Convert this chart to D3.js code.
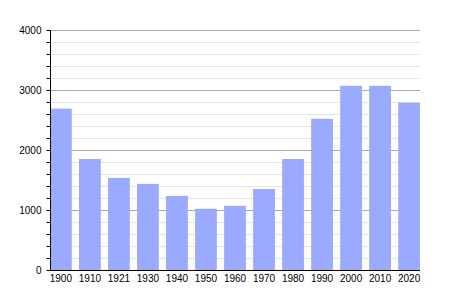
<!DOCTYPE html>
<html>
<head>
<meta charset="utf-8">
<script src="https://cdn.jsdelivr.net/npm/d3@7"></script>
<style>
  body { margin: 0; background: #fff; }
  svg text { font-family: "Liberation Sans", Arial, sans-serif; font-size: 10px; fill: #000; }
</style>
</head>
<body>
<div id="chart"></div>
<script>
var years = ["1900","1910","1921","1930","1940","1950","1960","1970","1980","1990","2000","2010","2020"];
var population = [2690,1850,1535,1435,1235,1020,1070,1350,1850,2520,3070,3070,2790];
var yTicks = [0,1000,2000,3000,4000];

var width = 450, height = 300;
var mLeft = 50, mRight = 420, mTop = 30, mBottom = 270;

var svg = d3.select("#chart").append("svg").attr("width", width).attr("height", height);

var x = d3.scaleBand().domain(years).range([mLeft, mRight]).paddingInner(0.25).paddingOuter(0);
var y = d3.scaleLinear().domain([0, 4000]).range([mBottom, mTop]);

var minor = d3.range(0, 4001, 200);

// minor grid
svg.append("g").selectAll("line")
    .data(minor.filter(function (d) { return d % 1000 != 0; }))
    .enter().append("line")
    .attr("x1", mLeft).attr("x2", mRight)
    .attr("y1", function (d) { return y(d) + 0.5; })
    .attr("y2", function (d) { return y(d) + 0.5; })
    .attr("stroke", "#e4e4e4");

// major grid
svg.append("g").selectAll("line")
    .data(yTicks.filter(function (d) { return d > 0; }))
    .enter().append("line")
    .attr("x1", mLeft).attr("x2", mRight)
    .attr("y1", function (d) { return y(d) + 0.5; })
    .attr("y2", function (d) { return y(d) + 0.5; })
    .attr("stroke", "#aaaaaa");

// bars
svg.append("g").selectAll("rect")
    .data(years)
    .enter().append("rect")
    .attr("x", function (d) { return x(d); })
    .attr("width", x.bandwidth())
    .attr("y", function (d, i) { return y(population[i]); })
    .attr("height", function (d, i) { return y(0) - y(population[i]); })
    .attr("fill", "#99aaff");

// y axis
var yAxis = d3.axisLeft(y).tickValues(minor).tickSize(4).tickFormat(function (d) {
    return yTicks.indexOf(d) >= 0 ? d : "";
});
var gy = svg.append("g").attr("transform", "translate(" + (mLeft + 0.5) + ",0)").call(yAxis);
gy.select(".domain").attr("d", "M0," + mTop + "V" + mBottom);
gy.selectAll("text").attr("x", -9);

// x axis baseline
svg.append("line")
    .attr("x1", mLeft).attr("x2", mRight)
    .attr("y1", mBottom + 0.5).attr("y2", mBottom + 0.5)
    .attr("stroke", "#000");

// x labels
svg.append("g").selectAll("text")
    .data(years)
    .enter().append("text")
    .attr("x", function (d) { return x(d) + x.bandwidth() / 2; })
    .attr("y", mBottom + 12)
    .attr("text-anchor", "middle")
    .text(function (d) { return d; });
</script>
</body>
</html>
